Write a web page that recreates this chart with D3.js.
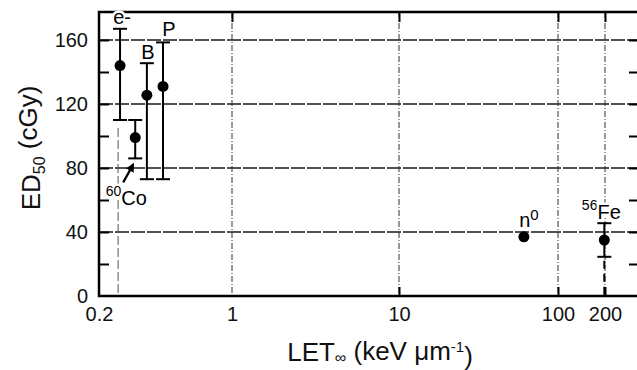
<!DOCTYPE html>
<html>
<head>
<meta charset="utf-8">
<script src="https://cdn.jsdelivr.net/npm/d3@7"></script>
<style>
  html, body { margin: 0; padding: 0; background: #fff; }
  svg { display: block; font-family: "Liberation Sans", Arial, Helvetica, sans-serif; }
</style>
</head>
<body>
<div id="chart"></div>
<script>
// radiation types and their readings
var names   = ["e-", "60Co", "B", "P", "n0", "56Fe"];
var letVals = [0.258, 0.31, 0.357, 0.434, 61, 198];      // keV/um
var ed50    = [144, 99, 125.5, 131, 37, 35];              // cGy
var errLow  = [110, 86, 73, 73, null, 24.5];
var errHigh = [167, 110, 145.5, 158.5, null, 45.5];

var xTicks = [0.2, 1, 10, 100, 200];
var yTicks = [0, 40, 80, 120, 160];
var yMinor = [20, 60, 100, 140];
var gridX  = [1, 10, 100, 200];
var gridY  = [40, 80, 120, 160];

// thin guide under the electron point, dashed drop under Fe
var eGuideLet = 0.252, eGuideTop = 105;

var W = 637, H = 370;
var pL = 99, pT = 12, pB = 296, pR = 640;

var svg = d3.select("#chart").append("svg")
  .attr("width", W).attr("height", H);

// the printed log axis is not evenly spaced, so calibrate per decade
var x = d3.scaleLog().domain(xTicks).range([pL, 232, 399, 558, 605]);
var y = d3.scaleLinear().domain([0, 177.5]).range([pB, pT]);

var pts = names.map(function(n, i){
  return {name: n, x: letVals[i], y: ed50[i], lo: errLow[i], hi: errHigh[i]};
});

// grid
svg.append("g").selectAll("line").data(gridY).enter().append("line")
  .attr("x1", pL).attr("x2", pR)
  .attr("y1", function(d){return y(d);}).attr("y2", function(d){return y(d);})
  .style("stroke", "#1a1a1a").style("stroke-width", 1.6)
  .style("stroke-dasharray", "14,2");

svg.append("g").selectAll("line").data(gridX).enter().append("line")
  .attr("x1", function(d){return x(d);}).attr("x2", function(d){return x(d);})
  .attr("y1", pT).attr("y2", pB)
  .style("stroke", "#333").style("stroke-width", 1)
  .style("stroke-dasharray", "6,2,1,2");

// guide lines
svg.append("line")
  .attr("x1", x(eGuideLet)).attr("x2", x(eGuideLet))
  .attr("y1", y(eGuideTop)).attr("y2", y(0))
  .style("stroke", "#555").style("stroke-width", 1)
  .style("stroke-dasharray", "9,3");

var fe = pts[5];
svg.append("line")
  .attr("x1", x(fe.x)).attr("x2", x(fe.x))
  .attr("y1", y(fe.lo) + 4).attr("y2", y(0))
  .style("stroke", "#000").style("stroke-width", 2)
  .style("stroke-dasharray", "8,5");

// axes
var fmt = d3.format("~g");

var gl = svg.append("g").attr("transform", "translate(" + pL + ",0)")
  .call(d3.axisLeft(y).tickValues(yTicks).tickSize(0).tickPadding(11));
gl.select(".domain").remove();

svg.append("g").attr("transform", "translate(" + pL + ",0)")
  .call(d3.axisRight(y).tickValues(yMinor.concat(yTicks.slice(1))).tickSize(10).tickFormat(""))
  .select(".domain").remove();

svg.append("g").attr("transform", "translate(" + pR + ",0)")
  .call(d3.axisLeft(y).tickValues(yMinor.concat(yTicks.slice(1))).tickSize(11).tickFormat(""))
  .select(".domain").remove();

var gb = svg.append("g").attr("transform", "translate(0," + pB + ")")
  .call(d3.axisBottom(x).tickValues(xTicks).tickSize(0).tickPadding(11).tickFormat(fmt));
gb.select(".domain").remove();

svg.append("g").attr("transform", "translate(0," + pB + ")")
  .call(d3.axisTop(x).tickValues(gridX.slice(1)).tickSize(9).tickFormat(""))
  .select(".domain").remove();

svg.append("g").attr("transform", "translate(0," + pT + ")")
  .call(d3.axisBottom(x).tickValues(gridX).tickSize(10).tickFormat(""))
  .select(".domain").remove();

svg.selectAll(".tick line").style("stroke", "#000").style("stroke-width", 2);
svg.selectAll(".tick text").style("font-size", "20px").style("fill", "#111");

// frame
svg.append("path")
  .attr("d", "M" + pR + "," + pT + "H" + pL + "V" + pB + "H" + pR)
  .style("fill", "none").style("stroke", "#000").style("stroke-width", 2.5);

// error bars
var bars = pts.filter(function(d){return d.lo != null;});
var cap = 7;
var eb = svg.append("g").selectAll("g").data(bars).enter().append("g");
eb.append("line")
  .attr("x1", function(d){return x(d.x);}).attr("x2", function(d){return x(d.x);})
  .attr("y1", function(d){return y(d.hi);}).attr("y2", function(d){return y(d.lo);});
eb.append("line")
  .attr("x1", function(d){return x(d.x) - cap;}).attr("x2", function(d){return x(d.x) + cap;})
  .attr("y1", function(d){return y(d.hi);}).attr("y2", function(d){return y(d.hi);});
eb.append("line")
  .attr("x1", function(d){return x(d.x) - cap;}).attr("x2", function(d){return x(d.x) + cap;})
  .attr("y1", function(d){return y(d.lo);}).attr("y2", function(d){return y(d.lo);});
eb.selectAll("line").style("stroke", "#000").style("stroke-width", 2);

// points
svg.append("g").selectAll("circle").data(pts).enter().append("circle")
  .attr("cx", function(d){return x(d.x);})
  .attr("cy", function(d){return y(d.y);})
  .attr("r", 5.5)
  .style("fill", "#000");

// labels: placement relative to the mark
var place = {
  "e-":   function(d){return [x(d.x) + 2, y(d.hi) - 5];},
  "B":    function(d){return [x(d.x) + 1, y(d.hi) - 4];},
  "P":    function(d){return [x(d.x) + 6, y(d.hi) - 6];},
  "n0":   function(d){return [x(d.x) + 5, y(d.y) - 10];},
  "56Fe": function(d){return [x(d.x) - 3, y(d.hi) - 7];},
  "60Co": function(d){return [x(d.x) - 9, y(d.lo) + 44];}
};

var lab = svg.append("g").selectAll("text").data(pts).enter().append("text")
  .attr("text-anchor", "middle")
  .attr("x", function(d){return place[d.name](d)[0];})
  .attr("y", function(d){return place[d.name](d)[1];})
  .style("font-size", "20px").style("fill", "#000")
  .style("paint-order", "stroke").style("stroke", "#fff").style("stroke-width", 5)
  .style("stroke-linejoin", "round");

lab.each(function(d){
  var m = d.name.match(/^(\d*)(\D+?)(\d*)$/);
  var t = d3.select(this);
  if (m[1]) t.append("tspan").text(m[1]).attr("dy", "-0.45em").style("font-size", "14px");
  t.append("tspan").text(m[2]).attr("dy", m[1] ? "0.45em" : null);
  if (m[3]) t.append("tspan").text(m[3]).attr("dy", "-0.45em").style("font-size", "15px");
});

// arrow to the Co point
svg.append("defs").append("marker")
  .attr("id", "arr").attr("viewBox", "0 0 10 10")
  .attr("refX", 8).attr("refY", 5)
  .attr("markerWidth", 4).attr("markerHeight", 4)
  .attr("orient", "auto")
  .append("path").attr("d", "M0,0L10,5L0,10z").style("fill", "#000");

var co = pts[1];
svg.append("line")
  .attr("x1", x(co.x) - 12).attr("y1", y(co.lo) + 24)
  .attr("x2", x(co.x) - 2).attr("y2", y(co.lo) + 6)
  .style("stroke", "#000").style("stroke-width", 2.2)
  .attr("marker-end", "url(#arr)");

// axis titles
var yt = svg.append("text")
  .attr("transform", "translate(40,148) rotate(-90)")
  .attr("text-anchor", "middle")
  .style("font-size", "26px").style("fill", "#111");
yt.append("tspan").text("ED");
yt.append("tspan").text("50").attr("dy", "0.3em").style("font-size", "16px");
yt.append("tspan").text(" (cGy)").attr("dy", "-0.3em");

var xt = svg.append("text")
  .attr("x", 380).attr("y", 361)
  .attr("text-anchor", "middle")
  .style("font-size", "26px").style("fill", "#111");
xt.append("tspan").text("LET");
xt.append("tspan").text("\u221E").attr("dy", "0.12em").style("font-size", "16px");
xt.append("tspan").text(" (keV \u03BCm").attr("dy", "-0.12em");
xt.append("tspan").text("-1").attr("dy", "-0.5em").style("font-size", "15px");
xt.append("tspan").text(")").attr("dy", "0.5em");
</script>
</body>
</html>
